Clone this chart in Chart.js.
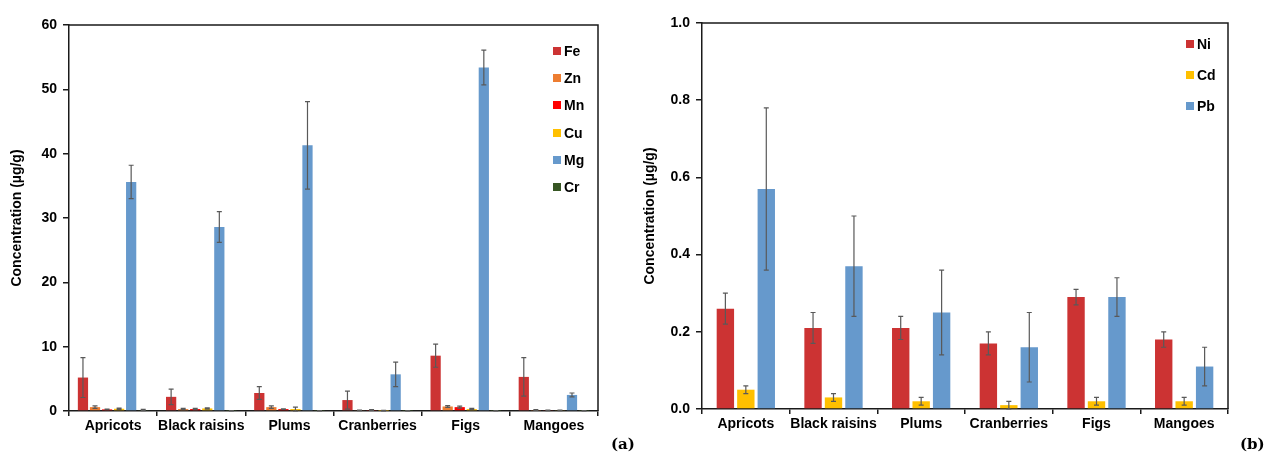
<!DOCTYPE html>
<html>
<head>
<meta charset="utf-8">
<script src="https://cdn.jsdelivr.net/npm/chart.js@4.4.0/dist/chart.umd.min.js"></script>
<style>
    body { margin: 0; background: #fff; }
    #wrap { position: relative; width: 1264px; height: 455px; font-family: 'Liberation Sans', Arial, sans-serif; }
    .panel { position: absolute; top: 0; width: 632px; height: 455px; }
    .legend { position: absolute; font-weight: bold; font-size: 14px; color: #000; }
    .legend div { position: absolute; white-space: nowrap; line-height: 16px; }
    .legend span { display: inline-block; width: 8px; height: 8px; margin-right: 3px; vertical-align: 1px; }
    .tag { position: absolute; top: 435px; font-family: 'DejaVu Serif', 'Liberation Serif', serif; font-weight: bold; font-size: 15px; }
</style>
</head>
<body>
<div id="wrap">
    <div class="panel" style="left:0"><canvas id="chartA" width="632" height="455"></canvas></div>
    <div class="panel" style="left:632px"><canvas id="chartB" width="632" height="455"></canvas></div>
    <div class="legend" id="legendA" style="left:553px; top:43px"></div>
    <div class="legend" id="legendB" style="left:1186px; top:36px"></div>
    <div class="tag" style="left:611px">(a)</div>
    <div class="tag" style="left:1240px">(b)</div>
</div>
<script>
const fruits = ['Apricots', 'Black raisins', 'Plums', 'Cranberries', 'Figs', 'Mangoes'];

// panel (a) - means and standard deviations
const feValues = [5.2, 2.2, 2.8, 1.7, 8.6, 5.3];
const feErrors = [3.1, 1.2, 1.0, 1.4, 1.8, 3.0];
const znValues = [0.6, 0.3, 0.6, 0.1, 0.7, 0.15];
const znErrors = [0.2, 0.1, 0.2, 0.05, 0.15, 0.05];
const mnValues = [0.25, 0.3, 0.3, 0.15, 0.6, 0.1];
const mnErrors = [0.05, 0.1, 0.05, 0.05, 0.15, 0.05];
const cuValues = [0.35, 0.4, 0.3, 0.05, 0.3, 0.1];
const cuErrors = [0.1, 0.1, 0.3, 0.05, 0.1, 0.05];
const mgValues = [35.6, 28.6, 41.3, 5.7, 53.4, 2.5];
const mgErrors = [2.6, 2.4, 6.8, 1.9, 2.7, 0.3];
const crValues = [0.15, 0.05, 0.05, 0.05, 0.05, 0.05];
const crErrors = [0.1, 0.02, 0.02, 0.02, 0.02, 0.02];
const ticksA = [0, 10, 20, 30, 40, 50, 60];

// panel (b)
const niValues = [0.26, 0.21, 0.21, 0.17, 0.29, 0.18];
const niErrors = [0.04, 0.04, 0.03, 0.03, 0.02, 0.02];
const cdValues = [0.05, 0.03, 0.02, 0.01, 0.02, 0.02];
const cdErrors = [0.01, 0.01, 0.01, 0.01, 0.01, 0.01];
const pbValues = [0.57, 0.37, 0.25, 0.16, 0.29, 0.11];
const pbErrors = [0.21, 0.13, 0.11, 0.09, 0.05, 0.05];
const ticksB = [0, 0.2, 0.4, 0.6, 0.8, 1.0];

const RED = '#cc3333', ORANGE = '#ed7d31', BRIGHT = '#ff0000', GOLD = '#ffc000', BLUE = '#6699cc', GREEN = '#375623';

Chart.defaults.font.family = "'Liberation Sans', Arial, sans-serif";
Chart.defaults.font.weight = 'bold';
Chart.defaults.color = '#000';

const errorBars = {
    id: 'errorBars',
    afterDatasetsDraw(chart) {
        const { ctx } = chart;
        const y = chart.scales.y;
        ctx.save();
        ctx.strokeStyle = '#595959';
        ctx.lineWidth = 1.2;
        chart.data.datasets.forEach((ds, i) => {
            const meta = chart.getDatasetMeta(i);
            ds.errors.forEach((err, j) => {
                const bar = meta.data[j];
                const top = y.getPixelForValue(ds.data[j] + err);
                const bottom = y.getPixelForValue(Math.max(ds.data[j] - err, 0));
                const cap = 2.5;
                ctx.beginPath();
                ctx.moveTo(bar.x, top);
                ctx.lineTo(bar.x, bottom);
                ctx.moveTo(bar.x - cap, top);
                ctx.lineTo(bar.x + cap, top);
                ctx.moveTo(bar.x - cap, bottom);
                ctx.lineTo(bar.x + cap, bottom);
                ctx.stroke();
            });
        });
        ctx.restore();
    }
};

const frame = {
    id: 'frame',
    afterDraw(chart) {
        const { ctx, chartArea } = chart;
        ctx.save();
        ctx.strokeStyle = '#1a1a1a';
        ctx.lineWidth = 1.5;
        ctx.beginPath();
        ctx.moveTo(chartArea.left, chartArea.top);
        ctx.lineTo(chartArea.right, chartArea.top);
        ctx.lineTo(chartArea.right, chartArea.bottom);
        ctx.stroke();
        ctx.restore();
    }
};

const makeDataset = (label, data, errors, color) => ({
    label,
    data,
    errors,
    backgroundColor: color,
    borderWidth: 0,
});

const makeChart = (canvasId, datasets, yMax, step, ticks, layout, xHeight, barPct, catPct, fmt) => {
    return new Chart(document.querySelector(canvasId), {
        type: 'bar',
        data: { labels: fruits, datasets },
        options: {
            responsive: false,
            animation: false,
            layout: { padding: layout },
            plugins: { legend: { display: false }, tooltip: { enabled: false } },
            datasets: { bar: { barPercentage: barPct, categoryPercentage: catPct } },
            scales: {
                x: {
                    grid: { drawOnChartArea: false, tickLength: 5, color: '#1a1a1a', lineWidth: 1.5 },
                    border: { color: '#1a1a1a', width: 1.5 },
                    ticks: { font: { size: 14, weight: 'bold' }, padding: 2, maxRotation: 0, autoSkip: false },
                    afterFit(scale) { scale.height = xHeight; },
                },
                y: {
                    min: 0,
                    max: yMax,
                    afterBuildTicks(scale) { scale.ticks = ticks.map(v => ({ value: v })); },
                    grid: { drawOnChartArea: false, tickLength: 6, color: '#1a1a1a', lineWidth: 1.5 },
                    border: { color: '#1a1a1a', width: 1.5 },
                    ticks: { stepSize: step, font: { size: 14, weight: 'bold' }, padding: 6, callback: fmt },
                    title: { display: true, text: 'Concentration (µg/g)', font: { size: 14, weight: 'bold' }, padding: { top: 3, bottom: 2 } },
                    afterFit(scale) { scale.width = 63; },
                },
            },
        },
        plugins: [errorBars, frame],
    });
};

const setA = [
    makeDataset('Fe', feValues, feErrors, RED),
    makeDataset('Zn', znValues, znErrors, ORANGE),
    makeDataset('Mn', mnValues, mnErrors, BRIGHT),
    makeDataset('Cu', cuValues, cuErrors, GOLD),
    makeDataset('Mg', mgValues, mgErrors, BLUE),
    makeDataset('Cr', crValues, crErrors, GREEN),
];
const setB = [
    makeDataset('Ni', niValues, niErrors, RED),
    makeDataset('Cd', cdValues, cdErrors, GOLD),
    makeDataset('Pb', pbValues, pbErrors, BLUE),
];

makeChart('#chartA', setA, 60, 10, ticksA, { left: 6, right: 34, top: 25, bottom: 0 }, 44, 0.85, 0.82, v => v);
makeChart('#chartB', setB, 1.0, 0.2, ticksB, { left: 7, right: 36, top: 23, bottom: 0 }, 46, 0.85, 0.7, v => Number(v).toFixed(1));

const buildLegend = (id, sets, gap) => {
    const box = document.querySelector(id);
    sets.forEach((ds, i) => {
        const row = document.createElement('div');
        row.style.top = (i * gap) + 'px';
        row.innerHTML = `<span style="background:${ds.backgroundColor}"></span>${ds.label}`;
        box.appendChild(row);
    });
};
buildLegend('#legendA', setA, 27.2);
buildLegend('#legendB', setB, 31);
</script>
</body>
</html>
